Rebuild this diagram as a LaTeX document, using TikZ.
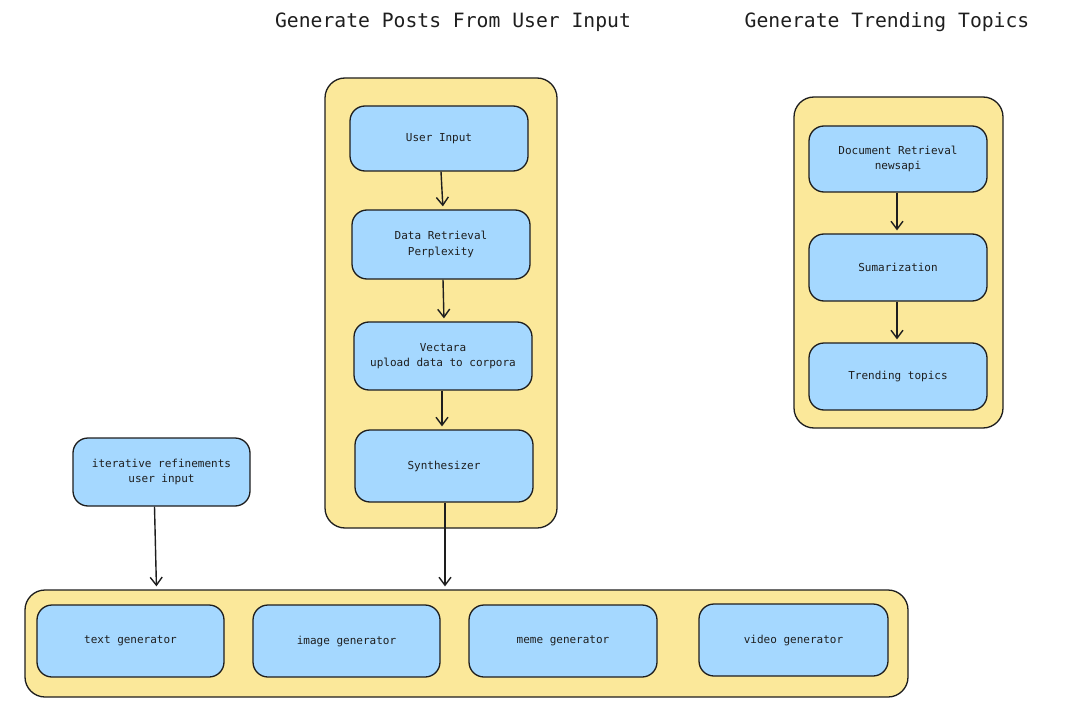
\documentclass[tikz,border=0pt]{standalone}
\usepackage{fontspec}
\newfontfamily\exfont{DejaVu Sans Mono}
\usetikzlibrary{arrows.meta,calc}
\definecolor{ink}{HTML}{1E1E1E}
\definecolor{yel}{HTML}{FBE89A}
\definecolor{blu}{HTML}{A5D8FF}
\tikzset{
  cont/.style={draw=ink, fill=yel, line width=1.3pt, rounded corners=20pt, inner sep=0pt},
  bbox/.style={draw=ink, fill=blu, line width=1.3pt, rounded corners=15pt, inner sep=0pt,
    align=center, text=ink, font=\exfont\fontsize{11}{15.5}\selectfont, minimum width=178pt},
  ttl/.style={text=ink, font=\exfont\fontsize{19.7}{22}\selectfont, inner sep=0pt},
  arr/.style={draw=ink, line width=1.4pt, -{Straight Barb[length=8pt,width=12pt]}, shorten >=3pt}
}
\begin{document}
\begin{tikzpicture}[x=1pt,y=-1pt]
\useasboundingbox (0,0) rectangle (1076,714);
% titles
\node[ttl] (t1) at (453,22) {Generate Posts From User Input};
\node[ttl] (t2) at (887,22) {Generate Trending Topics};
% containers
\node[cont, minimum width=232pt, minimum height=450pt] (c1) at (441,303) {};
\node[cont, minimum width=209pt, minimum height=331pt] (c2) at (898.5,262.5) {};
\node[cont, minimum width=883pt, minimum height=107pt] (c3) at (466.5,643.5) {};
% left column
\node[bbox, minimum height=65pt] (ui) at (439,138.5) {User Input};
\node[bbox, minimum height=69pt] (dr) at (441,244.5) {Data Retrieval\\Perplexity};
\node[bbox, minimum height=68pt] (vc) at (443,356) {Vectara\\upload data to corpora};
\node[bbox, minimum height=72pt] (sy) at (444,466) {Synthesizer};
% right column
\node[bbox, minimum height=66pt] (doc) at (898,159) {Document Retrieval\\newsapi};
\node[bbox, minimum height=67pt] (sum) at (898,267.5) {Sumarization};
\node[bbox, minimum height=67pt] (tr) at (898,376.5) {Trending topics};
% iterative
\node[bbox, minimum width=177pt, minimum height=68pt] (it) at (161.5,472) {iterative refinements\\user input};
% generators
\node[bbox, minimum width=187pt, minimum height=72pt] (g1) at (130.5,641) {text generator};
\node[bbox, minimum width=187pt, minimum height=72pt] (g2) at (346.5,641) {image generator};
\node[bbox, minimum width=188pt, minimum height=72pt] (g3) at (563,641) {meme generator};
\node[bbox, minimum width=189pt, minimum height=72pt] (g4) at (793.5,640) {video generator};
% arrows
\draw[arr] ($(ui.south)+(2,0)$) -- ($(dr.north)+(2,0)$);
\draw[arr] ($(dr.south)+(2,0)$) -- ($(vc.north)+(1,0)$);
\draw[arr] ($(vc.south)+(-1,0)$) -- ($(sy.north)+(-2,0)$);
\draw[arr] ($(sy.south)+(1,0)$) -- ($(sy.south |- c3.north)+(1,0)$);
\draw[arr] ($(doc.south)+(-1,0)$) -- ($(sum.north)+(-1,0)$);
\draw[arr] ($(sum.south)+(-1,0)$) -- ($(tr.north)+(-1,0)$);
\draw[arr] ($(it.south)+(-7,0)$) -- ($(it.south |- c3.north)+(-5,0)$);
\end{tikzpicture}
\end{document}
